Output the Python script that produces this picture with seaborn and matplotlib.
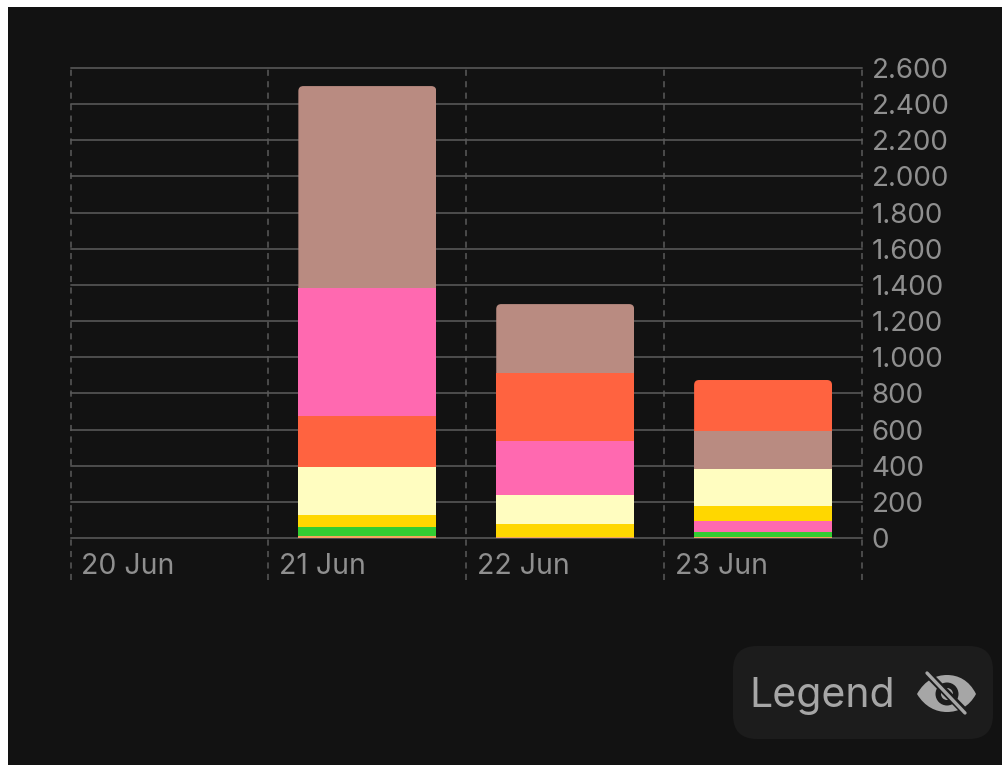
import matplotlib
matplotlib.use("Agg")
import matplotlib.pyplot as plt
import pandas as pd
import seaborn as sns
from matplotlib.patches import FancyBboxPatch, PathPatch, Rectangle, Circle
from matplotlib.path import Path
from matplotlib.transforms import IdentityTransform, blended_transform_factory

days = ["20 Jun", "21 Jun", "22 Jun", "23 Jun"]
y_ticks = [0, 200, 400, 600, 800, 1000, 1200, 1400, 1600, 1800, 2000, 2200, 2400, 2600]
y_labels = ["0", "200", "400", "600", "800", "1.000", "1.200", "1.400", "1.600",
            "1.800", "2.000", "2.200", "2.400", "2.600"]

# segment sizes per day
amber = [0, 10, 8, 4]
green = [0, 49, 0, 29]
gold = [0, 70, 69, 81]
cream = [0, 265, 162, 205]
tomato = [0, 282, 374, 282]
pink = [0, 707, 297, 63]
brown = [0, 1117, 384, 210]

series = {"amber": amber, "green": green, "gold": gold, "cream": cream,
          "tomato": tomato, "pink": pink, "brown": brown}
colors = {"amber": "#F4A460", "green": "#32CD32", "gold": "#FFD700", "cream": "#FFFDC0",
          "tomato": "#FF6340", "pink": "#FF69B0", "brown": "#B98B81"}

# stacking order differs per day, bottom to top
order_21 = ["amber", "green", "gold", "cream", "tomato", "pink", "brown"]
order_22 = ["amber", "green", "gold", "cream", "pink", "tomato", "brown"]
order_23 = ["amber", "green", "pink", "gold", "cream", "brown", "tomato"]
stack_order = {"21 Jun": order_21, "22 Jun": order_22, "23 Jun": order_23}

W, H = 1002, 765
BG = "#121212"
GRID = "#4d4d4d"
TXT = "#8f8f8f"

sns.set_theme(style="dark")
plt.rcParams["font.family"] = ["Inter", "DejaVu Sans"]

fig = plt.figure(figsize=(W / 100, H / 100), dpi=100, facecolor="white")
fig.add_artist(Rectangle((8 / W, 0), (W - 8) / W, (H - 7) / H, transform=fig.transFigure,
                         facecolor=BG, edgecolor="none", zorder=-5))

ax = fig.add_axes([70.5 / W, (H - 538) / H, (862 - 70.5) / W, (538 - 68) / H])
ax.set_facecolor("none")

rows = []
for day in days:
    bottom = 0
    for name in stack_order.get(day, []):
        value = series[name][days.index(day)]
        rows.append({"day": day, "name": name, "value": value, "bottom": bottom})
        bottom += value
df = pd.DataFrame(rows)

top_bars = []
for day, group in df.groupby("day"):
    for _, row in group.iterrows():
        heights = [row["value"] if d == day else 0 for d in days]
        bottoms = [row["bottom"] if d == day else 0 for d in days]
        before = len(ax.patches)
        sns.barplot(x=days, y=heights, bottom=bottoms, order=days, color=colors[row["name"]],
                    saturation=1, width=0.697, ax=ax, zorder=3, linewidth=0)
        if row["name"] == group.iloc[-1]["name"]:
            top_bars.append(ax.patches[before + days.index(day)])

ax.set_xlim(-0.5, 3.5)
ax.set_ylim(0, 2600)
ax.set_yticks(y_ticks)
ax.set_yticklabels(y_labels)
ax.yaxis.tick_right()
ax.set_xticks(range(len(days)))
ax.set_xticklabels([])
ax.set_xlabel("")
ax.set_ylabel("")
ax.tick_params(axis="y", length=0, pad=7, labelsize=20, labelcolor=TXT)
ax.tick_params(axis="x", length=0)
ax.grid(False)
sns.despine(ax=ax, left=True, right=True, top=True, bottom=True)

for y in y_ticks:
    ax.axhline(y, color=GRID, lw=1.4, zorder=1, clip_on=False)

# dashed day separators run below the axis, past the date labels
sep_x = [-0.5, 0.5, 1.5, 2.5, 3.5]
ax.vlines(sep_x, -232, 2600, color="#5a5a5a", lw=1.1, linestyles=(0, (4, 3.5)), zorder=1, clip_on=False)

trans = blended_transform_factory(ax.transData, fig.transFigure)
for i, day in enumerate(days):
    ax.text(i - 0.5 + 10.5 / 198, (H - 567) / H, day, transform=trans, color=TXT, fontsize=20.5,
            ha="left", va="center")

# round the top corners of each stack
fig.canvas.draw()
for bar in top_bars:
    (x0, y0), (x1, y1) = ax.transData.transform([(bar.get_x(), bar.get_y()),
                                                 (bar.get_x() + bar.get_width(), bar.get_y() + bar.get_height())])
    clip = FancyBboxPatch((x0, y0 - 20), x1 - x0, y1 - y0 + 20, boxstyle="round,pad=0,rounding_size=5",
                          transform=IdentityTransform())
    bar.set_clip_path(clip)
    bar.set_clip_on(True)

# legend button, in pixel coordinates from the top left
overlay = fig.add_axes([0, 0, 1, 1])
overlay.set_xlim(0, W)
overlay.set_ylim(H, 0)
overlay.axis("off")
overlay.add_patch(FancyBboxPatch((733, 646), 260, 93, boxstyle="round,pad=0,rounding_size=24",
                                 facecolor="#1c1c1c", edgecolor="none"))
overlay.text(749, 696, "Legend", color="#a6a6a6", fontsize=29.5, ha="left", va="center")

eye = Path([(917, 694), (925, 680), (936, 675), (947, 675), (958, 675), (969, 680), (976, 694),
            (969, 707), (958, 712), (947, 712), (936, 712), (925, 707), (917, 694)],
           [Path.MOVETO] + [Path.CURVE4] * 12)
overlay.add_patch(PathPatch(eye, facecolor="#a6a6a6", edgecolor="none"))
overlay.add_patch(Circle((947, 694), 11.5, facecolor="#1c1c1c", edgecolor="none"))
overlay.add_patch(Circle((947, 694), 6, facecolor="#a6a6a6", edgecolor="none"))
overlay.plot([925, 968], [671, 715], color="#1c1c1c", lw=5.5, solid_capstyle="butt")
overlay.plot([927, 965], [673, 713], color="#a6a6a6", lw=2.4, solid_capstyle="round")

fig.savefig("out.png", dpi=100, facecolor=fig.get_facecolor())
